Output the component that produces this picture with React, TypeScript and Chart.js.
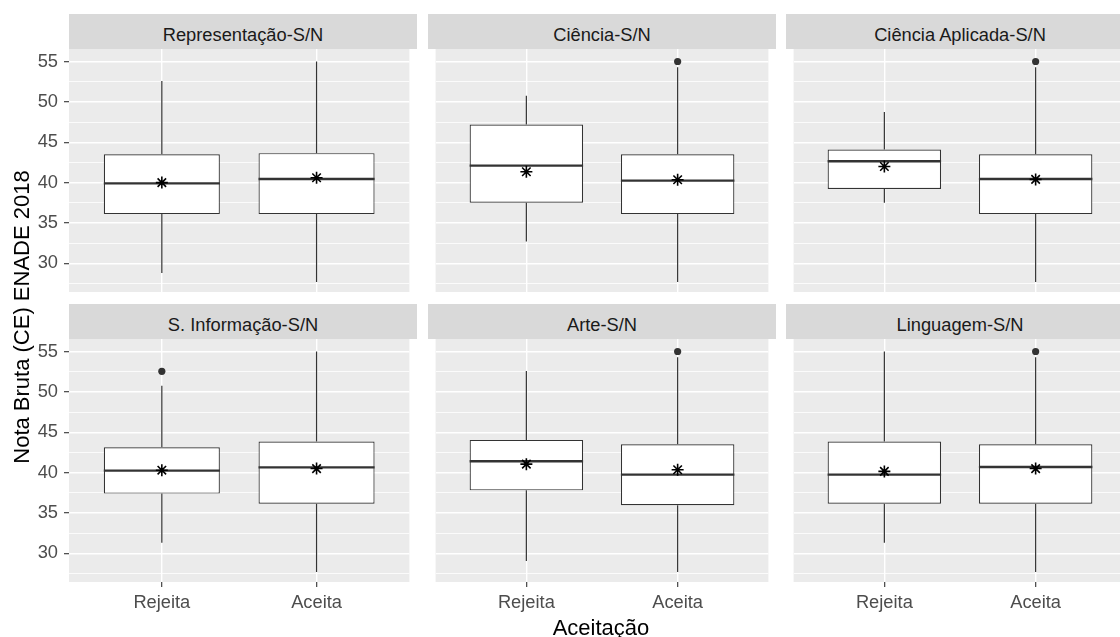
import React, { useEffect, useRef } from 'react';
import { Chart, registerables } from 'chart.js';

Chart.register(...registerables);

// Facets (row-major, 3 per row) and the two groups inside each facet
const facetTitles = [
  'Representação-S/N',
  'Ciência-S/N',
  'Ciência Aplicada-S/N',
  'S. Informação-S/N',
  'Arte-S/N',
  'Linguagem-S/N',
];
const groups = ['Rejeita', 'Aceita'];

// Box-plot statistics per facet: [Rejeita, Aceita]
const whiskerLow = [[28.8, 27.7], [32.7, 27.7], [37.5, 27.7], [31.3, 27.7], [29.05, 27.7], [31.3, 27.7]];
const lowerQuartile = [[36.1, 36.1], [37.5, 36.1], [39.2, 36.1], [37.4, 36.15], [37.8, 35.95], [36.15, 36.15]];
const medians = [[39.9, 40.45], [42.1, 40.25], [42.65, 40.45], [40.25, 40.65], [41.4, 39.75], [39.75, 40.7]];
const upperQuartile = [[43.5, 43.65], [47.2, 43.5], [44.1, 43.5], [43.15, 43.85], [44.05, 43.5], [43.85, 43.5]];
const whiskerHigh = [[52.6, 55.0], [50.75, 54.3], [48.75, 54.3], [50.75, 55.0], [52.6, 54.3], [55.0, 54.3]];
const means = [[40.0, 40.6], [41.35, 40.35], [42.0, 40.4], [40.3, 40.5], [41.05, 40.35], [40.15, 40.5]];
// Outliers as [facet, group, value]
const outliers: [number, number, number][] = [
  [1, 1, 55.0],
  [2, 1, 55.0],
  [3, 0, 52.55],
  [4, 1, 55.0],
  [5, 1, 55.0],
];

const yTicks = [27.5, 30, 32.5, 35, 37.5, 40, 42.5, 45, 47.5, 50, 52.5, 55];
const yMin = 26.45;
const yMax = 56.55;

// Layout of the facet grid (page pixels)
const FONT = "'Liberation Sans', Arial, Helvetica, sans-serif";
const PANEL_LEFT = [69, 428, 786];
const PANEL_W = 348;
const STRIP_TOP = [14, 304];
const STRIP_H = 35;
const PANEL_H = 243;
const Y_AXIS_W = 69;
const X_AXIS_H = 42;
const EDGE_PAD = 20;

const BOX_INDEX = 2;

const isMajor = (v: number) => Math.abs(v % 5) < 1e-6;

function Facet({ f }: { f: number }) {
  const ref = useRef<HTMLCanvasElement | null>(null);
  const col = f % 3;
  const row = Math.floor(f / 3);
  const axisW = col === 0 ? Y_AXIS_W : 0;
  const bottomExtra = row === 1 ? X_AXIS_H : EDGE_PAD;
  const panelTop = STRIP_TOP[row] + STRIP_H;
  const left = PANEL_LEFT[col] - axisW;
  const top = panelTop - EDGE_PAD;
  const width = PANEL_W + axisW;
  const height = EDGE_PAD + PANEL_H + bottomExtra;

  useEffect(() => {
    if (!ref.current) return;

    const boxParts = {
      id: 'boxParts',
      beforeDraw(chart: any) {
        const { ctx, chartArea } = chart;
        ctx.save();
        ctx.fillStyle = '#EBEBEB';
        ctx.fillRect(chartArea.left, chartArea.top, chartArea.right - chartArea.left, chartArea.bottom - chartArea.top);
        ctx.restore();
      },
      beforeDatasetDraw(chart: any, args: any) {
        if (args.index !== BOX_INDEX) return;
        const { ctx } = chart;
        const xs = chart.scales.x;
        const ys = chart.scales.y;
        ctx.save();
        ctx.strokeStyle = '#333333';
        ctx.lineWidth = 1.2;
        groups.forEach((_, g) => {
          const px = xs.getPixelForValue(g + 1);
          ctx.beginPath();
          ctx.moveTo(px, ys.getPixelForValue(whiskerHigh[f][g]));
          ctx.lineTo(px, ys.getPixelForValue(upperQuartile[f][g]));
          ctx.moveTo(px, ys.getPixelForValue(lowerQuartile[f][g]));
          ctx.lineTo(px, ys.getPixelForValue(whiskerLow[f][g]));
          ctx.stroke();
        });
        ctx.restore();
      },
      afterDatasetDraw(chart: any, args: any) {
        if (args.index !== BOX_INDEX) return;
        const { ctx } = chart;
        const ys = chart.scales.y;
        const meta = chart.getDatasetMeta(BOX_INDEX);
        ctx.save();
        ctx.strokeStyle = '#333333';
        ctx.lineWidth = 2.4;
        meta.data.forEach((bar: any, g: number) => {
          const { x, width: w } = bar.getProps(['x', 'width'], true);
          const py = ys.getPixelForValue(medians[f][g]);
          ctx.beginPath();
          ctx.moveTo(x - w / 2, py);
          ctx.lineTo(x + w / 2, py);
          ctx.stroke();
        });
        ctx.restore();
      },
    };

    const chart = new Chart(ref.current, {
      type: 'bar',
      data: {
        datasets: [
          {
            type: 'scatter',
            label: 'Média',
            data: means[f].map((m, g) => ({ x: g + 1, y: m })),
            pointStyle: 'star',
            pointRadius: 6,
            borderColor: '#000000',
            backgroundColor: '#000000',
            borderWidth: 1.6,
          } as any,
          {
            type: 'scatter',
            label: 'Outliers',
            data: outliers.filter(([k]) => k === f).map(([, g, v]) => ({ x: g + 1, y: v })),
            pointStyle: 'circle',
            pointRadius: 3.6,
            backgroundColor: '#333333',
            borderColor: '#333333',
            borderWidth: 0,
          } as any,
          {
            type: 'bar',
            label: 'Caixa',
            data: groups.map((_, g) => ({ x: g + 1, y: [lowerQuartile[f][g], upperQuartile[f][g]] })),
            backgroundColor: '#FFFFFF',
            borderColor: '#333333',
            borderWidth: 1.2,
            borderSkipped: false,
            barPercentage: 0.75,
            categoryPercentage: 1,
          } as any,
        ],
      },
      options: {
        animation: false,
        responsive: false,
        maintainAspectRatio: false,
        devicePixelRatio: 1,
        layout: { padding: { top: EDGE_PAD, bottom: row === 1 ? 0 : EDGE_PAD, left: 0, right: 0 } },
        plugins: { legend: { display: false }, tooltip: { enabled: false } },
        scales: {
          x: {
            type: 'linear',
            min: 0.4,
            max: 2.6,
            offset: false,
            afterBuildTicks: (s: any) => {
              s.ticks = groups.map((_, g) => ({ value: g + 1 }));
            },
            afterFit: (s: any) => {
              s.height = row === 1 ? X_AXIS_H : 0;
            },
            border: { display: false },
            grid: {
              offset: false,
              color: '#FFFFFF',
              lineWidth: 1.4,
              drawTicks: row === 1,
              tickLength: 5,
              tickColor: '#333333',
              tickWidth: 1.1,
            },
            ticks: {
              display: row === 1,
              autoSkip: false,
              maxRotation: 0,
              padding: 5,
              color: '#4D4D4D',
              font: { family: FONT, size: 18.3 },
              callback: (_v: any, i: number) => groups[i],
            },
          },
          y: {
            type: 'linear',
            min: yMin,
            max: yMax,
            afterBuildTicks: (s: any) => {
              s.ticks = yTicks.map((v) => ({ value: v }));
            },
            afterFit: (s: any) => {
              s.width = axisW;
            },
            border: { display: false },
            grid: {
              color: '#FFFFFF',
              lineWidth: (c: any) => (isMajor(c.tick.value) ? 1.4 : 0.8),
              drawTicks: col === 0,
              tickLength: 5,
              tickColor: (c: any) => (isMajor(c.tick.value) ? '#333333' : 'rgba(0,0,0,0)'),
              tickWidth: 1.1,
            },
            ticks: {
              display: col === 0,
              autoSkip: false,
              padding: 6,
              color: '#4D4D4D',
              font: { family: FONT, size: 18.3 },
              callback: (v: any) => (isMajor(Number(v)) ? String(v) : ''),
            },
          },
        },
      } as any,
      plugins: [boxParts],
    });
    return () => chart.destroy();
  }, [f]);

  return (
    <canvas
      ref={ref}
      width={width}
      height={height}
      style={{ position: 'absolute', left, top, width, height }}
    />
  );
}

function Strip({ f }: { f: number }) {
  const col = f % 3;
  const row = Math.floor(f / 3);
  return (
    <div
      style={{
        position: 'absolute',
        left: PANEL_LEFT[col],
        top: STRIP_TOP[row],
        width: PANEL_W,
        height: STRIP_H,
        background: '#D9D9D9',
        color: '#1A1A1A',
        fontSize: 18.3,
        lineHeight: `${STRIP_H}px`,
        textAlign: 'center',
        whiteSpace: 'nowrap',
      }}
    >
      <span style={{ position: 'relative', top: 3 }}>{facetTitles[f]}</span>
    </div>
  );
}

export default function App() {
  return (
    <div
      style={{
        position: 'absolute',
        left: 0,
        top: 0,
        width: 1120,
        height: 637,
        overflow: 'hidden',
        background: '#FFFFFF',
        fontFamily: FONT,
      }}
    >
      {facetTitles.map((_, f) => (
        <Strip key={`s${f}`} f={f} />
      ))}
      {facetTitles.map((_, f) => (
        <Facet key={`c${f}`} f={f} />
      ))}
      <div
        style={{
          position: 'absolute',
          left: 22 - 200,
          top: 317 - 11,
          width: 400,
          height: 22,
          lineHeight: '22px',
          fontSize: 22,
          color: '#000000',
          textAlign: 'center',
          whiteSpace: 'nowrap',
          transform: 'rotate(-90deg)',
          transformOrigin: 'center center',
        }}
      >
        Nota Bruta (CE) ENADE 2018
      </div>
      <div
        style={{
          position: 'absolute',
          left: 601 - 200,
          top: 617,
          width: 400,
          height: 22,
          lineHeight: '22px',
          fontSize: 22,
          color: '#000000',
          textAlign: 'center',
          whiteSpace: 'nowrap',
        }}
      >
        Aceitação
      </div>
    </div>
  );
}
